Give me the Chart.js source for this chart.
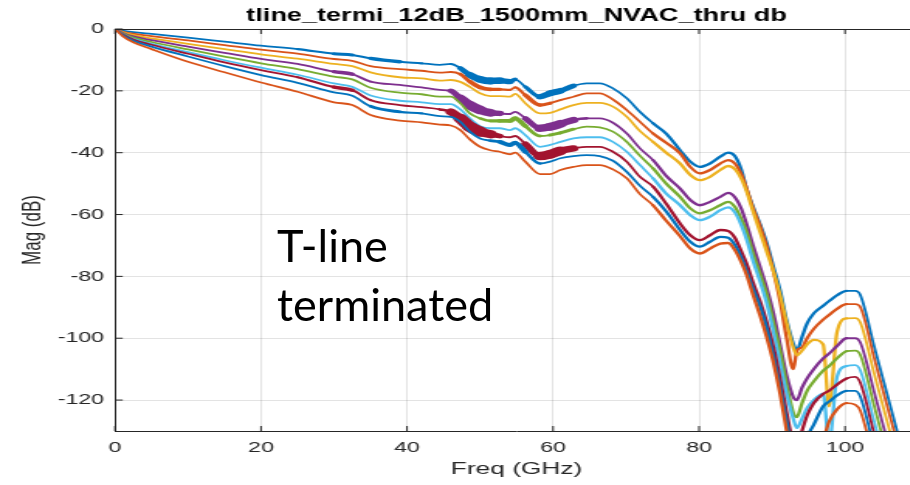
<!DOCTYPE html>
<html lang="en">
<head>
<meta charset="UTF-8">
<title>tline_termi_12dB_1500mm_NVAC_thru db</title>
<script src="https://cdn.jsdelivr.net/npm/chart.js@4.4.1/dist/chart.umd.min.js"></script>
<style>
  html, body { margin: 0; padding: 0; background: #fff; overflow: hidden; width: 910px; height: 485px; }
  /* the MATLAB figure was pasted stretched sideways, so stretch the canvas the same way */
  #wrap { position: absolute; left: 0; top: 0; width: 594px; height: 485px; transform: scaleX(1.55); transform-origin: 0 0; }
  #note { position: absolute; left: 277px; top: 216px; font-family: Lato, "Open Sans", sans-serif; font-size: 45px; line-height: 59px; color: #000; }
</style>
</head>
<body>
<div id="wrap"><canvas id="chart"></canvas></div>
<div id="note">T-line<br>terminated</div>
<script>
// Data (GHz / dB)
const titleText = 'tline_termi_12dB_1500mm_NVAC_thru db';
const xTicks = [0, 20, 40, 60, 80, 100];
const yTicks = [0, -20, -40, -60, -80, -100, -120];

const freq = [0, 1, 2.5, 5, 10, 15, 20, 25, 30, 32.5, 35,
  39, 42, 44.5, 46, 47.3, 48.6, 50, 51.4, 52.7,
  54.1, 54.8, 56.2, 58.2, 59.6, 61, 62.8, 64.6, 66.4,
  68.2, 70.1, 71.9, 73.7, 75.5,
  77.4, 78.8, 80.1, 81.5, 82.9, 84,
  84.9, 85.8, 86.5, 87.4, 88.4,
  89.3, 90.2, 91.1, 92, 92.9,
  93.4, 94.1, 94.8, 95.7,
  97, 97.8, 98.9,
  100.2, 101.4, 102.1,
  104, 106, 108, 110];

const magBlue1 = [0, -0.5, -1.0, -1.6, -2.8, -4.1, -5.4, -6.5, -8.0, -8.4, -9.5,
  -10.6, -11.1, -11.6, -11.3, -12.7, -14.9, -16.3, -16.8, -16.7,
  -17.0, -16.3, -18.7, -21.9, -20.8, -20.0, -18.4, -17.6, -17.6,
  -19.2, -22.4, -26.8, -30.5, -33.8,
  -39.2, -42.9, -44.6, -43.5, -41.3, -40.0,
  -41.1, -45.6, -51.6, -57.5, -63.4,
  -69.4, -77.0, -84.5, -94.2, -101.7,
  -103.9, -99.6, -95.2, -92.0,
  -89.5, -88.0, -86.1,
  -84.7, -84.7, -86.1,
  -102.7, -120.2, -137.7, -155];

const magOrange1 = [0, -0.8, -1.5, -2.3, -3.7, -5.2, -6.7, -8.0, -9.7, -10.3, -12.0,
  -13.0, -13.5, -14.1, -13.9, -14.6, -17.0, -18.9, -19.5, -19.5,
  -19.7, -18.9, -21.4, -24.6, -24.0, -23.0, -21.9, -20.8, -20.8,
  -22.8, -26.2, -30.0, -33.8, -36.8,
  -40.2, -44.6, -46.7, -45.6, -43.5, -42.4,
  -43.5, -47.0, -51.5, -58.0, -64.0,
  -70.5, -78.5, -88.0, -100.0, -110.0,
  -104.0, -103.0, -100.0, -97.0,
  -94.0, -92.5, -90.5,
  -89.0, -89.0, -90.0,
  -106.5, -124.0, -141.0, -158.0];

const magYellow = [0, -1.0, -2.0, -3.0, -4.8, -6.5, -8.2, -9.6, -11.3, -12.0, -14.0,
  -15.6, -16.0, -16.7, -16.5, -17.1, -18.7, -20.8, -21.7, -21.7,
  -21.9, -21.0, -24.0, -27.3, -27.1, -26.0, -24.6, -23.9, -23.9,
  -25.1, -28.4, -33.0, -36.5, -40.0,
  -43.5, -47.2, -48.9, -47.8, -45.6, -44.3,
  -45.3, -48.5, -52.5, -59.0, -66.0,
  -72.3, -78.5, -86.0, -95.0, -103.0,
  -105.5, -104.0, -102.0, -100.5,
  -102.0, -122.0, -98.0,
  -93.6, -93.5, -95.0,
  -111.5, -129.0, -146.0, -163.0];

const magPurple = [0, -1.2, -2.4, -3.6, -5.7, -7.7, -9.7, -11.3, -13.8, -14.6, -17.0,
  -18.1, -18.9, -19.7, -20.0, -22.4, -24.6, -26.2, -27.1, -27.3,
  -27.5, -26.8, -28.9, -32.1, -31.6, -30.7, -29.4, -28.9, -28.9,
  -30.3, -33.8, -38.6, -42.4, -47.5,
  -51.6, -55.3, -57.0, -55.9, -54.3, -53.0,
  -54.4, -58.2, -63.0, -70.0, -77.3,
  -84.0, -92.0, -102.0, -112.0, -119.0,
  -120.0, -116.0, -113.0, -110.0,
  -106.5, -105.0, -102.5,
  -100.0, -100.0, -101.5,
  -117.5, -135.0, -152.0, -169.0];

const magGreen = [0, -1.4, -2.8, -4.2, -6.6, -8.9, -11.1, -13.0, -15.4, -16.3, -19.0,
  -20.6, -21.1, -21.9, -21.9, -24.0, -27.3, -28.9, -29.7, -29.7,
  -29.7, -28.9, -31.4, -34.6, -34.3, -33.6, -32.4, -31.6, -31.8,
  -33.2, -36.5, -41.0, -45.1, -50.0,
  -54.3, -58.0, -59.6, -58.6, -57.0, -55.9,
  -57.5, -61.5, -65.5, -72.5, -79.5,
  -86.0, -95.0, -104.0, -115.0, -124.0,
  -125.5, -121.0, -117.0, -114.0,
  -110.5, -109.0, -106.5,
  -104.2, -104.0, -105.5,
  -122.0, -139.5, -157.0, -174.0];

const magCyan = [0, -1.6, -3.2, -4.8, -7.5, -10.1, -12.5, -14.8, -17.6, -18.7, -21.5,
  -23.2, -23.7, -24.3, -24.3, -26.0, -28.9, -31.4, -32.1, -32.1,
  -32.7, -32.1, -34.3, -38.1, -37.5, -36.5, -35.4, -35.0, -35.0,
  -36.5, -39.7, -44.0, -48.3, -53.2,
  -57.0, -60.2, -61.8, -60.7, -58.6, -57.7,
  -59.3, -63.5, -68.0, -75.0, -82.0,
  -89.0, -98.0, -108.0, -118.0, -126.0,
  -129.0, -126.0, -122.5, -120.0,
  -118.0, -134.0, -112.5,
  -109.0, -108.7, -110.5,
  -127.0, -144.5, -162.0, -179.0];

const magRed = [0, -1.7, -3.4, -5.1, -8.0, -10.8, -13.3, -15.6, -18.8, -19.8, -23.0,
  -24.6, -25.3, -26.0, -26.8, -28.9, -31.6, -33.2, -34.0, -34.6,
  -35.0, -34.6, -37.2, -41.1, -40.5, -39.4, -38.6, -38.1, -38.1,
  -39.7, -42.9, -47.8, -51.0, -56.5,
  -62.9, -66.7, -68.3, -66.7, -65.0, -65.3,
  -67.5, -72.0, -75.8, -82.0, -88.3,
  -95.0, -103.0, -113.0, -124.0, -134.0,
  -136.0, -130.0, -125.0, -121.0,
  -118.0, -117.0, -115.0,
  -113.0, -112.5, -114.5,
  -131.0, -148.5, -166.0, -183.0];

const magBlue2 = [0, -1.9, -3.8, -5.7, -8.9, -12.0, -14.9, -17.4, -20.5, -21.6, -25.0,
  -26.8, -27.3, -28.2, -28.4, -30.0, -33.2, -35.4, -36.1, -36.5,
  -37.5, -36.8, -39.7, -43.5, -42.9, -41.8, -41.1, -40.8, -41.1,
  -42.6, -46.2, -50.7, -54.3, -59.0,
  -65.0, -68.8, -70.4, -68.8, -67.2, -67.5,
  -69.8, -74.0, -78.3, -84.0, -90.0,
  -97.0, -106.0, -116.0, -127.0, -137.0,
  -140.0, -137.0, -132.0, -128.0,
  -122.0, -120.5, -118.5,
  -117.0, -117.0, -119.0,
  -135.5, -153.0, -170.0, -187.0];

const magOrange2 = [0, -2.2, -4.3, -6.5, -10.6, -14.0, -17.3, -20.3, -23.7, -24.6, -27.8,
  -29.6, -30.2, -30.9, -31.2, -32.7, -35.7, -38.1, -39.2, -39.7,
  -40.5, -40.0, -42.9, -46.9, -46.9, -45.6, -44.6, -44.0, -44.0,
  -45.4, -48.3, -53.4, -57.0, -62.0,
  -67.0, -71.0, -72.6, -71.0, -69.4, -69.2,
  -71.5, -75.5, -79.5, -86.0, -93.0,
  -100.0, -108.0, -118.0, -130.0, -140.0,
  -143.0, -145.0, -142.0, -138.0,
  -133.0, -127.0, -123.0,
  -121.0, -121.5, -123.5,
  -140.0, -157.0, -174.0, -191.0];

const series = [magBlue1, magOrange1, magYellow, magPurple, magGreen, magCyan, magRed, magBlue2, magOrange2];

// MATLAB default colour order
const colors = ['#0072BD', '#D95319', '#EDB120', '#7E2F8E', '#77AC30', '#4DBEEE', '#A2142F', '#0072BD', '#D95319'];

// where the ripple is so dense the trace looks like a thick band: [from GHz, to GHz, max width]
const rippleBands = [
  [[27, 34, 3.2], [34, 41, 3.4], [46.5, 55.5, 7], [56.5, 63.5, 6]],
  [[46.5, 54, 3.8], [55, 60.5, 3.5]],
  [],
  [[28, 34, 3.4], [45.5, 53.5, 8.5], [56, 64, 8]],
  [[50, 58.5, 4], [59, 63, 3.2]],
  [],
  [[27, 34, 3.6], [45, 53, 10], [56, 63.5, 9]],
  [[35.5, 41, 3.2], [51, 58, 4]],
  []
];
const baseWidth = 1.8;

function segWidth(i) {
  return ctx => {
    const x = (freq[ctx.p0DataIndex] + freq[ctx.p1DataIndex]) / 2;
    let w = baseWidth;
    if (x > 74 && x < 100) w = 2.3;
    rippleBands[i].forEach(([a, b, m]) => {
      if (x > a && x < b) {
        w = Math.max(w, baseWidth + (m - baseWidth) * Math.sin(Math.PI * (x - a) / (b - a)));
      }
    });
    return w;
  };
}

const axisColor = '#262626';
const gridColor = 'rgba(38,38,38,0.13)';

// box on top, inward tick marks and the title, the way MATLAB draws them
const matlabFrame = {
  id: 'matlabFrame',
  afterDraw(chart) {
    const {ctx, chartArea: a, scales} = chart;
    ctx.save();
    ctx.strokeStyle = axisColor;
    ctx.lineWidth = 1;
    ctx.beginPath();
    ctx.moveTo(a.left, a.top + 0.5);
    ctx.lineTo(a.right, a.top + 0.5);
    xTicks.forEach(v => {
      const px = scales.x.getPixelForValue(v);
      ctx.moveTo(px, a.bottom);
      ctx.lineTo(px, a.bottom - 5);
      ctx.moveTo(px, a.top);
      ctx.lineTo(px, a.top + 5);
    });
    yTicks.forEach(v => {
      const py = scales.y.getPixelForValue(v);
      ctx.moveTo(a.left, py);
      ctx.lineTo(a.left + 5, py);
    });
    ctx.stroke();

    ctx.fillStyle = '#000';
    ctx.font = 'bold 17.5px "Liberation Sans", Arial, sans-serif';
    ctx.textAlign = 'center';
    ctx.textBaseline = 'alphabetic';
    ctx.fillText(titleText, (a.left + a.right) / 2, 20.5);
    ctx.restore();
  }
};

const tickFont = {family: '"Liberation Sans", Arial, sans-serif', size: 15};
const labelFont = {family: '"Liberation Sans", Arial, sans-serif', size: 17};

new Chart(document.getElementById('chart'), {
  type: 'line',
  data: {
    datasets: series.map((mag, i) => ({
      data: freq.map((f, k) => ({x: f, y: mag[k]})),
      borderColor: colors[i],
      borderWidth: baseWidth,
      borderCapStyle: 'round',
      borderJoinStyle: 'round',
      pointRadius: 0,
      fill: false,
      cubicInterpolationMode: 'monotone',
      clip: 0,
      order: series.length - 1 - i,
      segment: {borderWidth: segWidth(i)}
    }))
  },
  options: {
    responsive: true,
    maintainAspectRatio: false,
    animation: false,
    layout: {padding: {top: 29, right: 1.7, bottom: 0, left: 0}},
    plugins: {legend: {display: false}, tooltip: {enabled: false}},
    scales: {
      x: {
        type: 'linear',
        min: 0,
        max: 110,
        afterFit: s => { s.height = 54; },
        ticks: {stepSize: 20, includeBounds: false, padding: 8, color: axisColor, font: tickFont, maxRotation: 0},
        grid: {color: gridColor, drawTicks: false},
        border: {display: true, color: axisColor, width: 1},
        title: {display: true, text: 'Freq (GHz)', color: axisColor, font: labelFont, padding: {top: 0, bottom: 5}}
      },
      y: {
        type: 'linear',
        min: -130,
        max: 0,
        afterFit: s => { s.width = 74.2; },
        ticks: {stepSize: 20, includeBounds: false, padding: 7, color: axisColor, font: tickFont},
        grid: {color: gridColor, drawTicks: false},
        border: {display: true, color: axisColor, width: 1},
        title: {display: true, text: 'Mag (dB)', color: axisColor, font: labelFont, padding: {top: 11, bottom: 0}}
      }
    }
  },
  plugins: [matlabFrame]
});
</script>
</body>
</html>
